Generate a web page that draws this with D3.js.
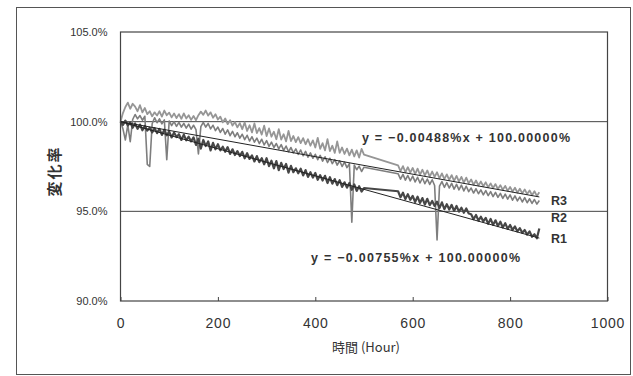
<!DOCTYPE html>
<html>
<head>
<meta charset="utf-8">
<script src="https://cdn.jsdelivr.net/npm/d3@7"></script>
<style>
  html, body { margin: 0; padding: 0; background: #fff; }
  text { font-family: "Liberation Sans", Arial, sans-serif; fill: #333; }
</style>
</head>
<body>
<div id="chart"></div>
<script>
// hours of measurement (gap between 500h and 570h)
var hours = d3.range(0, 505, 5).concat(d3.range(570, 865, 5));

// change rate (%) per sample
var r1 = [
  100.00, 99.82, 100.06, 99.78, 99.96, 99.66, 99.90, 99.60, 99.84, 99.52,
  99.76, 99.50, 99.66, 99.40, 99.64, 99.36, 99.60, 99.26, 99.55, 99.24,
  99.44, 99.12, 99.40, 99.14, 99.30, 98.98, 99.28, 98.96, 99.16, 98.90,
  99.12, 98.70, 99.05, 98.50, 98.98, 98.64, 98.90, 98.40, 98.82, 98.46,
  98.74, 98.40, 98.60, 98.32, 98.58, 98.20, 98.46, 98.14, 98.36, 98.08,
  98.32, 97.96, 98.24, 97.92, 98.12, 97.78, 98.08, 97.74, 97.96, 97.62,
  97.96, 97.52, 97.82, 97.40, 97.80, 97.30, 97.70, 97.36, 97.64, 97.16,
  97.54, 97.18, 97.40, 97.12, 97.38, 97.00, 97.30, 96.92, 97.18, 96.88,
  97.14, 96.76, 97.02, 96.72, 96.98, 96.58, 96.90, 96.54, 96.80, 96.46,
  96.74, 96.36, 96.62, 96.32, 96.58, 96.20, 96.50, 96.14, 96.40, 96.10,
  96.30,
  96.12, 95.78, 96.04, 95.68, 95.96, 95.64, 95.86, 95.52, 95.82, 95.46,
  95.74, 95.38, 95.70, 95.34, 95.58, 95.30, 95.54, 95.18, 95.50, 95.12,
  95.40, 95.10, 95.36, 95.02, 95.30, 94.98, 95.20, 94.92, 95.16, 94.88,
  94.84, 94.56, 94.80, 94.48, 94.70, 94.44, 94.64, 94.30, 94.58, 94.24,
  94.50, 94.18, 94.42, 94.10, 94.34, 94.02, 94.24, 93.96, 94.16, 93.88,
  94.06, 93.80, 93.96, 93.70, 93.88, 93.58, 93.72, 93.50, 94.04
];
var r2 = [
  100.00, 99.60, 98.98, 99.82, 98.88, 100.12, 100.40, 100.16, 100.34, 100.08,
  100.30, 97.62, 97.50, 99.88, 100.22, 99.94, 100.16, 99.88, 100.10, 97.88,
  100.04, 99.78, 100.00, 99.74, 99.96, 99.70, 99.90, 99.64, 99.86, 99.58,
  99.80, 99.56, 98.20, 99.72, 99.96, 99.70, 99.90, 99.60, 99.80, 99.50,
  99.70, 99.40, 99.62, 99.30, 99.54, 99.22, 99.46, 99.16, 99.38, 99.08,
  99.30, 99.00, 99.24, 98.92, 99.16, 98.86, 99.08, 98.78, 99.02, 98.70,
  98.94, 98.62, 98.86, 98.56, 98.78, 98.48, 98.72, 98.40, 98.64, 98.32,
  98.56, 98.26, 98.48, 98.18, 98.42, 98.10, 98.34, 98.02, 98.26, 97.96,
  98.18, 97.88, 98.12, 97.80, 98.04, 97.72, 97.96, 97.66, 97.88, 97.58,
  97.82, 97.50, 97.74, 97.44, 97.66, 94.40, 97.58, 97.32, 97.52, 97.22,
  97.46,
  97.10, 96.80, 97.06, 96.74, 97.00, 96.70, 96.96, 96.64, 96.90, 96.58,
  96.86, 96.54, 96.80, 96.50, 96.76, 96.44, 93.40, 96.40, 96.66, 96.34,
  96.60, 96.30, 96.56, 96.24, 96.50, 96.20, 96.46, 96.14, 96.40, 96.10,
  96.30, 96.02, 96.26, 95.98, 96.20, 95.92, 96.16, 95.88, 96.10, 95.82,
  96.06, 95.78, 96.00, 95.72, 95.96, 95.68, 95.92, 95.62, 95.86, 95.58,
  95.80, 95.52, 95.76, 95.48, 95.70, 95.44, 95.66, 95.40, 95.60
];
var r3 = [
  100.00, 100.48, 100.82, 101.06, 100.72, 101.00, 100.84, 100.58, 100.92, 100.52,
  100.76, 100.42, 100.58, 100.30, 100.52, 100.34, 100.58, 100.28, 100.62, 100.36,
  100.50, 100.24, 100.46, 100.20, 100.42, 100.16, 100.46, 100.18, 100.36, 100.10,
  100.32, 100.08, 100.36, 100.56, 100.38, 100.62, 100.34, 100.52, 100.22, 100.42,
  100.12, 100.28, 99.96, 100.18, 99.86, 100.08, 99.78, 99.98, 99.68, 99.92,
  99.58, 99.96, 99.48, 99.80, 99.40, 99.90, 99.36, 99.64, 99.28, 99.78,
  99.20, 99.62, 99.16, 99.44, 99.02, 99.58, 99.00, 99.30, 98.90, 99.48,
  98.92, 99.20, 98.86, 99.14, 98.80, 99.08, 98.74, 99.02, 98.66, 98.96,
  98.56, 99.10, 98.48, 98.80, 98.40, 99.02, 98.36, 98.66, 98.26, 98.90,
  98.26, 98.56, 98.20, 98.50, 98.12, 98.44, 98.06, 98.40, 98.00, 98.48,
  98.16,
  97.56, 97.24, 97.52, 97.18, 97.46, 97.16, 97.42, 97.08, 97.38, 97.04,
  97.32, 97.00, 97.28, 96.94, 97.22, 96.92, 97.18, 96.84, 97.12, 96.80,
  97.06, 96.76, 97.02, 96.70, 96.98, 96.66, 96.92, 96.60, 96.88, 96.56,
  96.78, 96.48, 96.72, 96.44, 96.66, 96.40, 96.62, 96.34, 96.56, 96.30,
  96.52, 96.24, 96.46, 96.20, 96.42, 96.14, 96.36, 96.10, 96.32, 96.04,
  96.26, 96.00, 96.22, 95.96, 96.16, 95.90, 96.12, 95.86, 96.06
];

// linear fits: y = slope * x + 100
var fitSlopes = [-0.00488, -0.00755];
var fitLabels = ["y = \u22120.00488%x + 100.00000%", "y = \u22120.00755%x + 100.00000%"];
var fitEnd = 860;

var yTicks = [90, 95, 100, 105];
var xTicks = [0, 200, 400, 600, 800, 1000];

var width = 633, height = 376;

var svg = d3.select("#chart").append("svg")
    .attr("width", width)
    .attr("height", height);

// outer chart frame
svg.append("rect")
    .attr("x", 16.5).attr("y", 7.5)
    .attr("width", 614).attr("height", 367)
    .attr("fill", "#fff")
    .attr("stroke", "#555")
    .attr("stroke-width", 1);

var x = d3.scaleLinear().domain([0, 1000]).range([120.5, 607.5]);
var y = d3.scaleLinear().domain([90, 105]).range([301, 32]);

// gridlines
svg.append("g").selectAll("line")
    .data([95, 100])
    .join("line")
    .attr("x1", x(0)).attr("x2", x(1000))
    .attr("y1", function (d) { return y(d); })
    .attr("y2", function (d) { return y(d); })
    .attr("stroke", "#444")
    .attr("stroke-width", 1);

// series
var line = d3.line()
    .x(function (d, i) { return x(hours[i]); })
    .y(function (d) { return y(d); });

var series = [
    { name: "R3", values: r3, color: "#969696", w: 1.8 },
    { name: "R2", values: r2, color: "#7e7e7e", w: 1.6 },
    { name: "R1", values: r1, color: "#474747", w: 2.2 }
];

svg.append("g").selectAll("path")
    .data(series)
    .join("path")
    .attr("fill", "none")
    .attr("stroke", function (d) { return d.color; })
    .attr("stroke-width", function (d) { return d.w; })
    .attr("stroke-linejoin", "round")
    .attr("d", function (d) { return line(d.values); });

// trend lines
svg.append("g").selectAll("line")
    .data(fitSlopes)
    .join("line")
    .attr("x1", x(0)).attr("y1", y(100))
    .attr("x2", x(fitEnd))
    .attr("y2", function (d) { return y(100 + d * fitEnd); })
    .attr("stroke", "#222")
    .attr("stroke-width", 1);

// plot border
svg.append("rect")
    .attr("x", x(0)).attr("y", y(105))
    .attr("width", x(1000) - x(0)).attr("height", y(90) - y(105))
    .attr("fill", "none")
    .attr("stroke", "#444")
    .attr("stroke-width", 1.2);

// x axis
var xAxis = svg.append("g")
    .attr("transform", "translate(0," + y(90) + ")")
    .call(d3.axisBottom(x).tickValues(xTicks).tickFormat(d3.format("d"))
        .tickSizeInner(-4).tickSizeOuter(0).tickPadding(17));
xAxis.select(".domain").remove();
xAxis.selectAll(".tick line").attr("stroke", "#444");
xAxis.selectAll("text")
    .style("font-size", "14px")
    .style("letter-spacing", "0.8px")
    .attr("fill", "#333");

// y axis
var yAxis = svg.append("g")
    .attr("transform", "translate(" + x(0) + ",0)")
    .call(d3.axisLeft(y).tickValues(yTicks).tickSize(0).tickPadding(13)
        .tickFormat(function (d) { return d.toFixed(1) + "%"; }));
yAxis.select(".domain").remove();
yAxis.selectAll("text")
    .style("font-size", "11px")
    .attr("fill", "#444");

// axis titles
svg.append("text")
    .attr("x", 366).attr("y", 352)
    .attr("text-anchor", "middle")
    .style("font-family", "'Noto Sans CJK JP', sans-serif")
    .style("font-size", "13px")
    .text("時間 (Hour)");

svg.append("text")
    .attr("transform", "translate(60,171) rotate(-90)")
    .attr("text-anchor", "middle")
    .style("font-family", "'Noto Sans CJK JP', sans-serif")
    .style("font-size", "15px")
    .style("font-weight", "bold")
    .style("letter-spacing", "2px")
    .text("変化率");

// fit equations
svg.append("text")
    .attr("x", 362).attr("y", 142)
    .attr("textLength", 208).attr("lengthAdjust", "spacing")
    .style("font-size", "12.5px")
    .style("font-weight", "bold")
    .text(fitLabels[0]);

svg.append("text")
    .attr("x", 311).attr("y", 262)
    .attr("textLength", 209).attr("lengthAdjust", "spacing")
    .style("font-size", "12.5px")
    .style("font-weight", "bold")
    .text(fitLabels[1]);

// series labels
svg.append("g").selectAll("text")
    .data([["R3", 95.6], ["R2", 94.65], ["R1", 93.45]])
    .join("text")
    .attr("x", 551)
    .attr("y", function (d) { return y(d[1]) + 4; })
    .style("font-size", "12.5px")
    .style("font-weight", "bold")
    .text(function (d) { return d[0]; });
</script>
</body>
</html>
